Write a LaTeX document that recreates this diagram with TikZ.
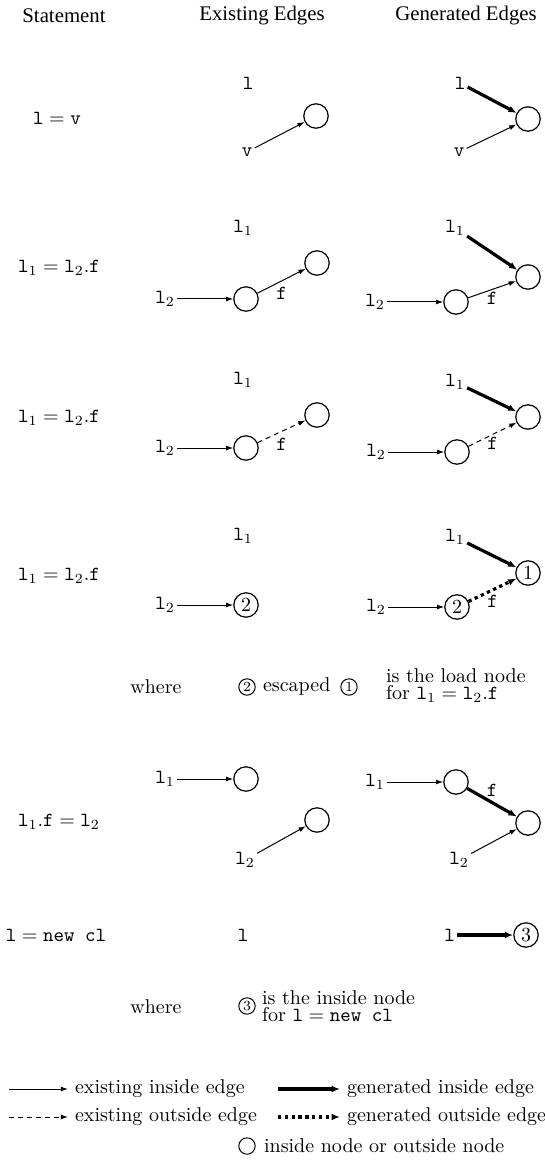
\documentclass[tikz,border=0pt]{standalone}
\usepackage{fontspec}
\newfontfamily\headfont{Liberation Serif}
\usetikzlibrary{arrows.meta,positioning}

\begin{document}
\begin{tikzpicture}[x=0.5pt,y=-0.5pt,>={Latex[length=3.6pt,width=2.5pt]},node distance=28pt,
	vertex/.style={circle,draw,line width=0.6pt,minimum size=12.2pt,inner sep=0pt},
	keyvertex/.style={circle,draw,line width=0.5pt,minimum size=8.2pt,inner sep=0pt,font=\scriptsize},
	var/.style={inner sep=1pt},
	head/.style={font=\headfont\fontsize{10.4}{12}\selectfont},
	inedge/.style={->,line width=0.5pt},
	outedge/.style={->,line width=0.5pt,dash pattern=on 2.5pt off 2pt},
	geninedge/.style={-{Latex[length=4.2pt,width=3.4pt]},line width=1.6pt},
	genoutedge/.style={-{Latex[length=4.2pt,width=3.4pt]},line width=1.6pt,dash pattern=on 1.7pt off 1.7pt}]
	\useasboundingbox (0,0) rectangle (545,1176);
	% column heads
	\node[head] (hs) at (64,16) {Statement};
	\node[head] (he) at (262,16) {Existing Edges};
	\node[head] (hg) at (466,16) {Generated Edges};
	% l = v
	\node (s1) at (57,118) {$\mathtt{l}=\mathtt{v}$};
	\node[var] (e1l) at (248,83) {$\mathtt{l}$};
	\node[vertex] (e1c) at (316,116) {};
	\node[var] (e1v) at (247,152) {$\mathtt{v}$};
	\draw[inedge] (e1v) -- (e1c);
	\node[var] (g1l) at (460,83) {$\mathtt{l}$};
	\node[vertex] (g1c) at (528,119) {};
	\node[var] (g1v) at (459,152) {$\mathtt{v}$};
	\draw[geninedge] (g1l) -- (g1c);
	\draw[inedge] (g1v) -- (g1c);
	% l1 = l2.f, inside edge
	\node (s2) at (59,268) {$\mathtt{l}_1=\mathtt{l}_2\mathtt{.f}$};
	\node[var] (e2l1) at (243,228) {$\mathtt{l}_1$};
	\node[vertex] (e2a) at (246,299) {};
	\node[vertex] (e2b) at (317,263) {};
	\node[var,left=of e2a] (e2l2) {$\mathtt{l}_2$};
	\draw[inedge] (e2l2) -- (e2a);
	\draw[inedge] (e2a) -- node[var,below=2pt] {$\mathtt{f}$} (e2b);
	\node[var] (g2l1) at (455,228) {$\mathtt{l}_1$};
	\node[vertex] (g2a) at (456,302) {};
	\node[vertex] (g2b) at (528,277) {};
	\node[var,left=of g2a] (g2l2) {$\mathtt{l}_2$};
	\draw[geninedge] (g2l1) -- (g2b);
	\draw[inedge] (g2l2) -- (g2a);
	\draw[inedge] (g2a) -- node[var,below] {$\mathtt{f}$} (g2b);
	% l1 = l2.f, outside edge
	\node (s3) at (59,418) {$\mathtt{l}_1=\mathtt{l}_2\mathtt{.f}$};
	\node[var] (e3l1) at (243,380) {$\mathtt{l}_1$};
	\node[vertex] (e3a) at (246,448) {};
	\node[vertex] (e3b) at (317,415) {};
	\node[var,left=of e3a] (e3l2) {$\mathtt{l}_2$};
	\draw[inedge] (e3l2) -- (e3a);
	\draw[outedge] (e3a) -- node[var,below=2pt] {$\mathtt{f}$} (e3b);
	\node[var] (g3l1) at (455,382) {$\mathtt{l}_1$};
	\node[vertex] (g3a) at (457,452) {};
	\node[vertex] (g3b) at (528,417) {};
	\node[var,left=of g3a] (g3l2) {$\mathtt{l}_2$};
	\draw[geninedge] (g3l1) -- (g3b);
	\draw[inedge] (g3l2) -- (g3a);
	\draw[outedge] (g3a) -- node[var,below] {$\mathtt{f}$} (g3b);
	% l1 = l2.f, escaped node
	\node (s4) at (59,576) {$\mathtt{l}_1=\mathtt{l}_2\mathtt{.f}$};
	\node[var] (e4l1) at (243,536) {$\mathtt{l}_1$};
	\node[vertex] (e4c2) at (246,605) {2};
	\node[var,left=of e4c2] (e4l2) {$\mathtt{l}_2$};
	\draw[inedge] (e4l2) -- (e4c2);
	\node[var] (g4l1) at (455,537) {$\mathtt{l}_1$};
	\node[vertex] (g4c1) at (528,573) {1};
	\node[vertex] (g4c2) at (457,607) {2};
	\node[var,left=of g4c2] (g4l2) {$\mathtt{l}_2$};
	\draw[geninedge] (g4l1) -- (g4c1);
	\draw[inedge] (g4l2) -- (g4c2);
	\draw[genoutedge] (g4c2) -- node[var,below=1pt] {$\mathtt{f}$} (g4c1);
	\node (w1) at (156,687) {where};
	\node[keyvertex] (w1c2) at (247,687) {2};
	\node[anchor=west] (w1esc) at (256,686) {escaped};
	\node[keyvertex] (w1c1) at (349,687) {1};
	\node[anchor=west,align=left] (w1txt) at (379,686) {is the load node\\[-3.5pt]for $\mathtt{l}_1=\mathtt{l}_2\mathtt{.f}$};
	% l1.f = l2
	\node (s5) at (59,822) {$\mathtt{l}_1\mathtt{.f}=\mathtt{l}_2$};
	\node[vertex] (e5a) at (246,779) {};
	\node[var,left=of e5a] (e5l1) {$\mathtt{l}_1$};
	\node[vertex] (e5b) at (317,820) {};
	\node[var] (e5l2) at (245,860) {$\mathtt{l}_2$};
	\draw[inedge] (e5l1) -- (e5a);
	\draw[inedge] (e5l2) -- (e5b);
	\node[vertex] (g5a) at (456,782) {};
	\node[var,left=of g5a] (g5l1) {$\mathtt{l}_1$};
	\node[vertex] (g5b) at (528,823) {};
	\node[var] (g5l2) at (459,860) {$\mathtt{l}_2$};
	\draw[inedge] (g5l1) -- (g5a);
	\draw[geninedge] (g5a) -- node[var,above=1pt] {$\mathtt{f}$} (g5b);
	\draw[inedge] (g5l2) -- (g5b);
	% l = new cl
	\node (s6) at (56,935) {$\mathtt{l}=\texttt{new cl}$};
	\node[var] (e6l) at (243,935) {$\mathtt{l}$};
	\node[vertex] (g6c3) at (526,935) {3};
	\node[var,left=of g6c3] (g6l) {$\mathtt{l}$};
	\draw[geninedge] (g6l) -- (g6c3);
	\node (w2) at (156,1007) {where};
	\node[keyvertex] (w2c3) at (247,1006) {3};
	\node[anchor=west,align=left] (w2txt) at (255,1006) {is the inside node\\[-3.5pt]for $\mathtt{l}=\texttt{new cl}$};
	% legend
	\coordinate (k1) at (9,1089);
	\coordinate (k2) at (9,1117);
	\coordinate (k3) at (278,1089);
	\coordinate (k4) at (278,1117);
	\node[anchor=west] (t1) at (68,1089) {existing inside edge};
	\node[anchor=west] (t2) at (68,1117) {existing outside edge};
	\node[anchor=west] (t3) at (340,1089) {generated inside edge};
	\node[anchor=west] (t4) at (340,1117) {generated outside edge};
	\draw[inedge] (k1) -- (t1);
	\draw[outedge] (k2) -- (t2);
	\draw[geninedge] (k3) -- (t3);
	\draw[genoutedge] (k4) -- (t4);
	\node[keyvertex] (lc) at (247,1146) {};
	\node[anchor=west] (lct) at (257,1146) {inside node or outside node};
\end{tikzpicture}
\end{document}
